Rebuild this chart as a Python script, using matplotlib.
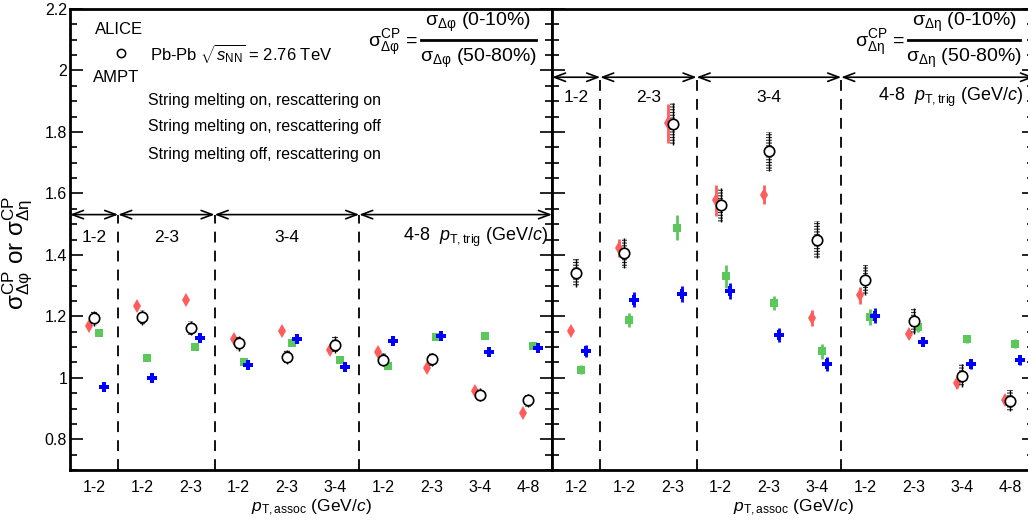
import matplotlib
matplotlib.use("Agg")
import matplotlib.pyplot as plt
from matplotlib.ticker import MultipleLocator, FixedLocator, FixedFormatter
from matplotlib.lines import Line2D
import numpy as np

plt.rcParams['font.family'] = ['Liberation Sans', 'DejaVu Sans']
plt.rcParams['mathtext.fontset'] = 'custom'
plt.rcParams['mathtext.rm'] = 'Liberation Sans'
plt.rcParams['mathtext.it'] = 'Liberation Sans:italic'
plt.rcParams['mathtext.bf'] = 'Liberation Sans:bold'
plt.rcParams['mathtext.default'] = 'regular'
plt.rcParams['hatch.linewidth'] = 0.8

# ---------------- data ----------------
assoc_labels = ["1-2", "1-2", "2-3", "1-2", "2-3", "3-4", "1-2", "2-3", "3-4", "4-8"]
trig_labels = ["1-2", "2-3", "3-4", "4-8"]
trig_bounds = [0, 1, 3, 6, 10]

# left panel: sigma_CP (delta phi)
alice_phi = [1.194, 1.197, 1.162, 1.112, 1.067, 1.108, 1.059, 1.060, 0.945, 0.927]
alice_phi_sys = [0.024, 0.024, 0.023, 0.024, 0.023, 0.028, 0.022, 0.022, 0.021, 0.021]
smon_reon_phi = [1.170, 1.235, 1.253, 1.126, 1.153, 1.091, 1.085, 1.032, 0.957, 0.887]
smon_reoff_phi = [1.145, 1.064, 1.099, 1.052, 1.113, 1.058, 1.037, 1.133, 1.135, 1.102]
smoff_reon_phi = [0.971, 1.000, 1.129, 1.042, 1.126, 1.036, 1.119, 1.136, 1.083, 1.097]
ampt_phi_err = [0.006, 0.006, 0.006, 0.006, 0.006, 0.006, 0.006, 0.006, 0.006, 0.006]

# right panel: sigma_CP (delta eta)
alice_eta = [1.341, 1.406, 1.825, 1.562, 1.737, 1.449, 1.319, 1.185, 1.007, 0.926]
alice_eta_sys = [0.045, 0.050, 0.068, 0.055, 0.064, 0.060, 0.048, 0.042, 0.038, 0.034]
smon_reon_eta = [1.152, 1.422, 1.828, 1.577, 1.596, 1.195, 1.268, 1.144, 0.983, 0.928]
smon_reon_eta_err = [0.010, 0.030, 0.064, 0.050, 0.032, 0.027, 0.027, 0.013, 0.015, 0.015]
smon_reoff_eta = [1.027, 1.188, 1.489, 1.330, 1.243, 1.086, 1.199, 1.164, 1.126, 1.111]
smon_reoff_eta_err = [0.015, 0.022, 0.040, 0.038, 0.022, 0.024, 0.026, 0.016, 0.013, 0.015]
smoff_reon_eta = [1.088, 1.254, 1.273, 1.282, 1.140, 1.046, 1.202, 1.118, 1.045, 1.059]
smoff_reon_eta_err = [0.020, 0.025, 0.026, 0.027, 0.022, 0.023, 0.024, 0.016, 0.016, 0.016]

RED = '#ff5c5c'
GREEN = '#5cc85c'
BLUE = '#0000ff'

W, H = 1028, 522
fig = plt.figure(figsize=(W / 100, H / 100), dpi=100)

def px(x0, y0, w, h):
    return [x0 / W, 1 - (y0 + h) / H, w / W, h / H]

axL = fig.add_axes(px(70, 9, 482, 461))
axR = fig.add_axes(px(552, 9, 482, 461))

x = np.arange(10) + 0.5

def style(ax, show_labels):
    ax.set_xlim(0, 10)
    ax.set_ylim(0.7, 2.2)
    for s in ax.spines.values():
        s.set_linewidth(2.0)
    ax.yaxis.set_major_locator(FixedLocator([0.8, 1.0, 1.2, 1.4, 1.6, 1.8, 2.0, 2.2]))
    ax.yaxis.set_minor_locator(MultipleLocator(0.05))
    ax.tick_params(axis='y', which='both', direction='in', left=True, right=True, width=1.2)
    ax.tick_params(axis='y', which='major', length=9)
    ax.tick_params(axis='y', which='minor', length=5)
    if show_labels:
        ax.yaxis.set_major_formatter(FixedFormatter(["0.8", "1", "1.2", "1.4", "1.6", "1.8", "2", "2.2"]))
        ax.tick_params(axis='y', labelsize=11.5, pad=2)
    else:
        ax.tick_params(axis='y', labelleft=False)
    ax.set_xticks(x)
    ax.set_xticklabels(assoc_labels)
    ax.tick_params(axis='x', length=0, labelsize=11.5, pad=7)
    ax.set_xlabel(r"$\mathit{p}_{\mathrm{T,assoc}}$ (GeV/$\mathit{c}$)", fontsize=12.5, labelpad=2)

def draw(ax, alice, alice_sys, red, red_e, green, green_e, blue, blue_e):
    off = 0.1
    ax.errorbar(x - off, red, yerr=red_e, fmt='d', color=RED, ms=7.5, mew=0,
                elinewidth=2, capsize=0, zorder=3)
    ax.errorbar(x + off, green, yerr=green_e, fmt='s', color=GREEN, ms=6, mew=0,
                elinewidth=2, capsize=0, zorder=3)
    ax.errorbar(x + 2 * off, blue, yerr=blue_e, fmt='P', color=BLUE, ms=7, mew=0,
                elinewidth=2, capsize=0, zorder=3)
    a = np.array(alice)
    s = np.array(alice_sys)
    ax.bar(x, 2 * s, bottom=a - s, width=0.11, fill=False, hatch='------',
           edgecolor='#333333', linewidth=0, zorder=4)
    ax.errorbar(x, alice, yerr=alice_sys, fmt='none', ecolor='black',
                elinewidth=1.0, capsize=0, zorder=4)
    ax.plot(x, alice, 'o', ms=7.5, mfc='white', mec='black', mew=1.2, zorder=5)

def trig_markers(ax, y_arrow, y_text, x_right):
    for b in trig_bounds[1:-1]:
        ax.plot([b, b], [0.7, y_arrow], color='black', lw=1.3, dashes=(6, 4.5), zorder=1)
    for i in range(4):
        x0, x1 = trig_bounds[i], trig_bounds[i + 1]
        ax.annotate('', xy=(x1, y_arrow), xytext=(x0, y_arrow),
                    arrowprops=dict(arrowstyle='<->,head_length=0.8,head_width=0.3',
                                    lw=1.2, color='black', shrinkA=0, shrinkB=0))
    for i in range(3):
        xc = 0.5 * (trig_bounds[i] + trig_bounds[i + 1])
        ax.text(xc, y_text, trig_labels[i], ha='center', va='center', fontsize=12.5)
    ax.text(x_right, y_text, trig_labels[3] + r"  $\mathit{p}_{\mathrm{T,trig}}$ (GeV/$\mathit{c}$)",
            ha='right', va='center', fontsize=13)

style(axL, True)
style(axR, False)
draw(axL, alice_phi, alice_phi_sys, smon_reon_phi, ampt_phi_err,
     smon_reoff_phi, ampt_phi_err, smoff_reon_phi, ampt_phi_err)
draw(axR, alice_eta, alice_eta_sys, smon_reon_eta, smon_reon_eta_err,
     smon_reoff_eta, smon_reoff_eta_err, smoff_reon_eta, smoff_reon_eta_err)
trig_markers(axL, 1.531, 1.458, 9.92)
trig_markers(axR, 1.978, 1.912, 9.78)

# y label
fig.text(18 / W, 1 - 253 / H, r"$\sigma^{\mathrm{CP}}_{\Delta\varphi}$ or $\sigma^{\mathrm{CP}}_{\Delta\eta}$",
         rotation=90, ha='center', va='center', fontsize=17.5)

# legend (text only for AMPT, as in reference)
def ftext(xp, yp, s, **kw):
    fig.text(xp / W, 1 - yp / H, s, va='center', **kw)

ftext(95, 30, "ALICE", fontsize=12)
fig.add_artist(Line2D([121 / W], [1 - 53 / H], marker='o', ms=6, mfc='white', mec='black',
                      mew=1.1, transform=fig.transFigure))
ftext(150, 53, r"Pb-Pb $\sqrt{\mathit{s}_{\mathrm{NN}}}$ = 2.76 TeV", fontsize=12)
ftext(93, 77, "AMPT", fontsize=12)
ftext(148, 100, "String melting on, rescattering on", fontsize=11.4)
ftext(148, 127, "String melting on, rescattering off", fontsize=11.4)
ftext(148, 154, "String melting off, rescattering on", fontsize=11.4)

# formulas
def formula(x_lhs, x_bar0, x_bar1, var):
    ftext(x_lhs, 43, r"$\sigma^{\mathrm{CP}}_{%s}$ =" % var, fontsize=14)
    xc = 0.5 * (x_bar0 + x_bar1)
    fig.text(xc / W, 1 - 22 / H, r"$\sigma_{%s}$ (0-10%%)" % var, ha='center', va='center', fontsize=14)
    fig.text(xc / W, 1 - 58 / H, r"$\sigma_{%s}$ (50-80%%)" % var, ha='center', va='center', fontsize=14)
    fig.add_artist(Line2D([x_bar0 / W, x_bar1 / W], [1 - 40 / H, 1 - 40 / H], color='black',
                          lw=2, transform=fig.transFigure))

formula(368, 421, 536, r"\Delta\varphi")
formula(855, 908, 1020, r"\Delta\eta")

fig.savefig("out.png", dpi=100)
